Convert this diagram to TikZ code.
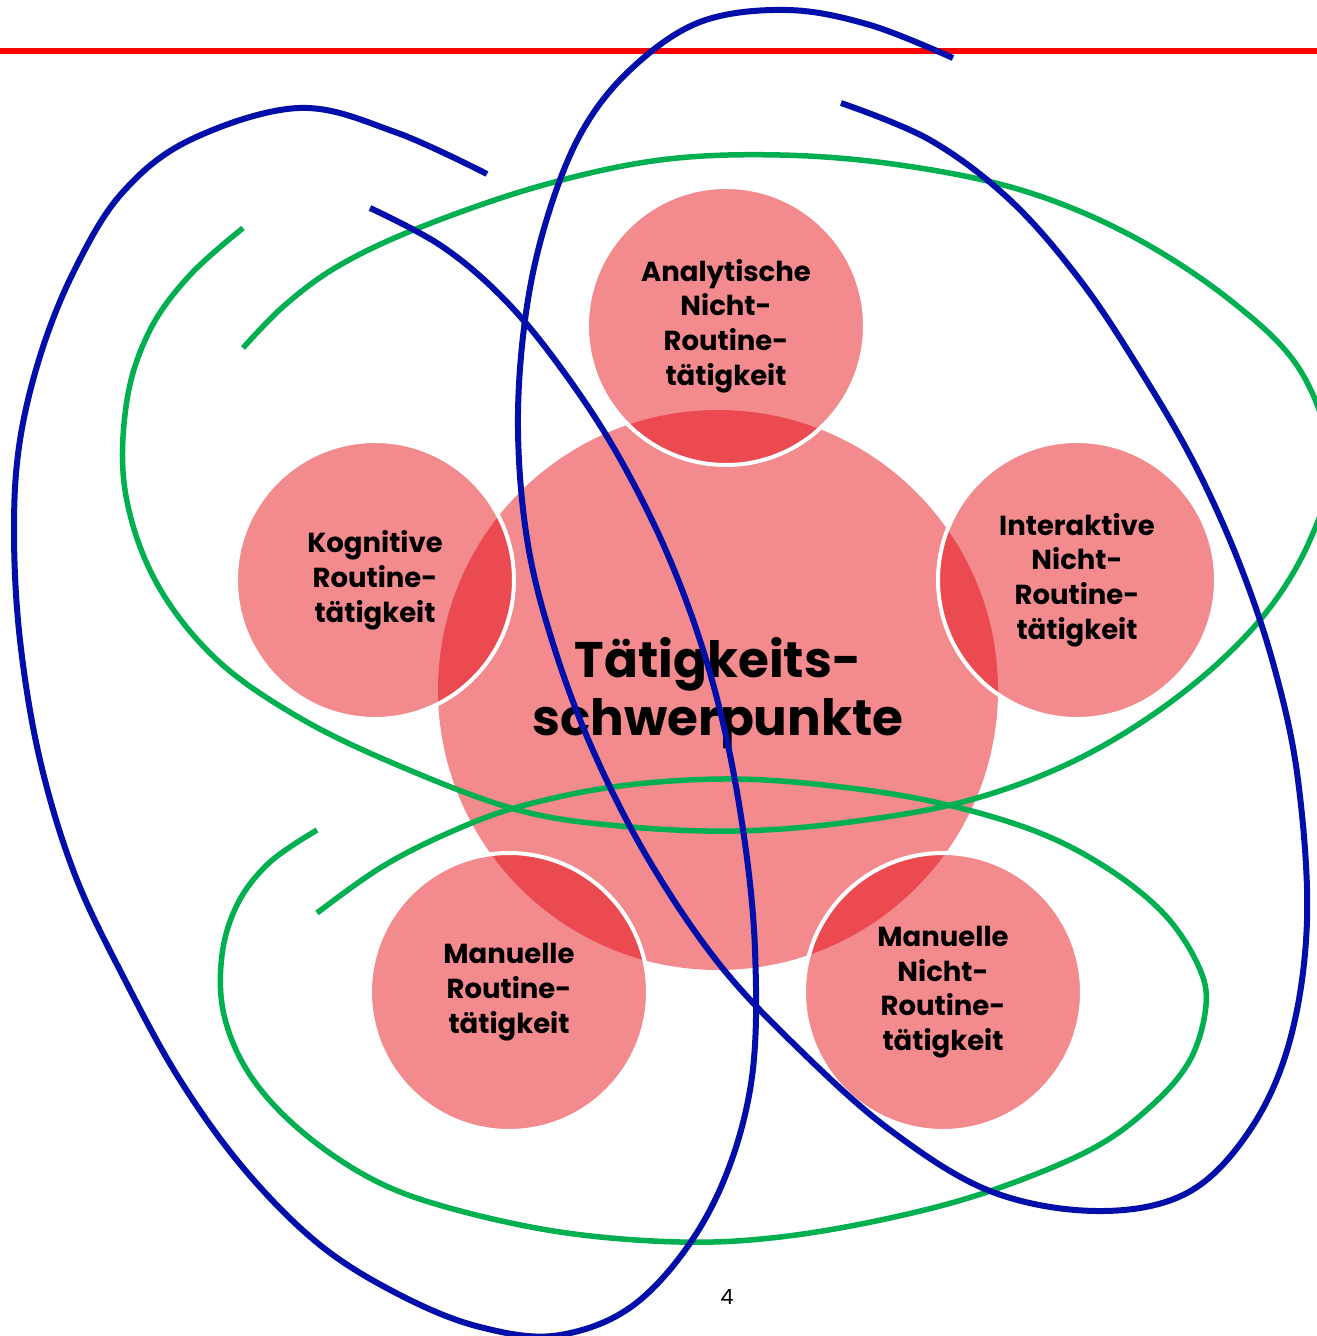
\documentclass[tikz,border=0pt]{standalone}
\usepackage{fontspec}
\setmainfont{Poppins}
\definecolor{petal}{RGB}{227,1,9}
\definecolor{inkblue}{RGB}{0,14,170}
\definecolor{inkgreen}{RGB}{0,176,80}
\definecolor{rulered}{RGB}{255,0,0}
\begin{document}
\begin{tikzpicture}[x=1pt,y=-1pt,
  hub/.style={circle, fill=petal, fill opacity=0.46, inner sep=0pt, minimum size=560pt},
  hubtext/.style={align=center, inner sep=0pt, font=\bfseries\fontsize{50}{58}\selectfont},
  petalnode/.style={circle, fill=petal, fill opacity=0.46, text opacity=1, draw=white,
    line width=4pt, inner sep=0pt, minimum size=278pt, align=center,
    font=\bfseries\fontsize{27.5}{34.8}\selectfont},
  inkline/.style={line width=6pt, line join=round},
  blueink/.style={inkline, draw=inkblue},
  greenink/.style={inkline, line width=5.5pt, draw=inkgreen}]
\useasboundingbox (0,0) rectangle (1317,1336);
\fill[white] (0,0) rectangle (1317,1336);
\begin{scope}
\clip (0,0) rectangle (1317,1336);
% top rule
\draw[rulered, line width=6.5pt] (0,51) coordinate (ruleL) -- (1317,51) coordinate (ruleR);
% circles
\node[hub] (hub) at (718,690) {};
\node[hubtext] (hublabel) at (718,693) {Tätigkeits-\\schwerpunkte};
\node[petalnode] (analyt) at (726,326) {Analytische\\Nicht-\\Routine-\\tätigkeit};
\node[petalnode] (kogn) at (375,580) {Kognitive\\Routine-\\tätigkeit};
\node[petalnode] (interakt) at (1077,580) {Interaktive\\Nicht-\\Routine-\\tätigkeit};
\node[petalnode] (manroutine) at (509,992) {Manuelle\\Routine-\\tätigkeit};
\node[petalnode] (mannicht) at (943,992) {Manuelle\\Nicht-\\Routine-\\tätigkeit};
% green loops
\draw[greenink] plot[smooth, tension=0.6] coordinates {
  (243,348) (285,305) (340,265) (421,227) (540,186) (660,160) (780,155) (900,165)
  (1021,190) (1130,235) (1230,300) (1300,370) (1330,460) (1310,540) (1260,620)
  (1180,695) (1080,758) (970,800) (850,822) (735,831) (620,826) (518,810)
  (402,767) (300,718) (215,658) (155,580) (125,490) (127,400) (150,330)
  (190,275) (243,228)};
\draw[greenink] plot[smooth, tension=0.6] coordinates {
  (317,913) (380,868) (446,834) (518,807) (620,786) (735,779) (850,788) (948,805)
  (1040,833) (1110,870) (1165,915) (1198,965) (1206,1005) (1190,1060) (1150,1107)
  (1090,1150) (990,1191) (890,1218) (780,1237) (680,1242) (560,1232) (446,1207)
  (370,1178) (300,1130) (250,1075) (224,1015) (222,955) (238,903) (270,862)
  (317,830)};
% blue loops
\draw[blueink] plot[smooth, tension=0.6] coordinates {
  (370,208) (440,245) (500,295) (555,360) (615,450) (670,560) (712,680) (740,810)
  (755,950) (750,1090) (710,1210) (640,1300) (560,1335) (480,1327) (400,1295)
  (320,1245) (245,1170) (180,1080) (125,980) (75,875) (40,760) (20,640) (14,530)
  (20,440) (42,350) (76,267) (122,193) (190,140) (299,108) (395,132) (487,174)};
\draw[blueink] plot[smooth, tension=0.6] coordinates {
  (953,58) (870,25) (787,10) (700,22) (630,70) (580,135) (545,225) (525,320)
  (518,430) (528,545) (555,650) (595,755) (650,862) (720,965) (800,1050)
  (890,1130) (990,1191) (1097,1211) (1187,1193) (1250,1130) (1290,1040)
  (1307,920) (1298,780) (1275,670) (1240,565) (1195,465) (1140,370)
  (1080,280) (1010,200) (930,140) (841,103)};
\end{scope}
\node[font=\fontsize{21}{24}\selectfont, inner sep=0pt] (pagenum) at (727,1297) {4};
\end{tikzpicture}
\end{document}
